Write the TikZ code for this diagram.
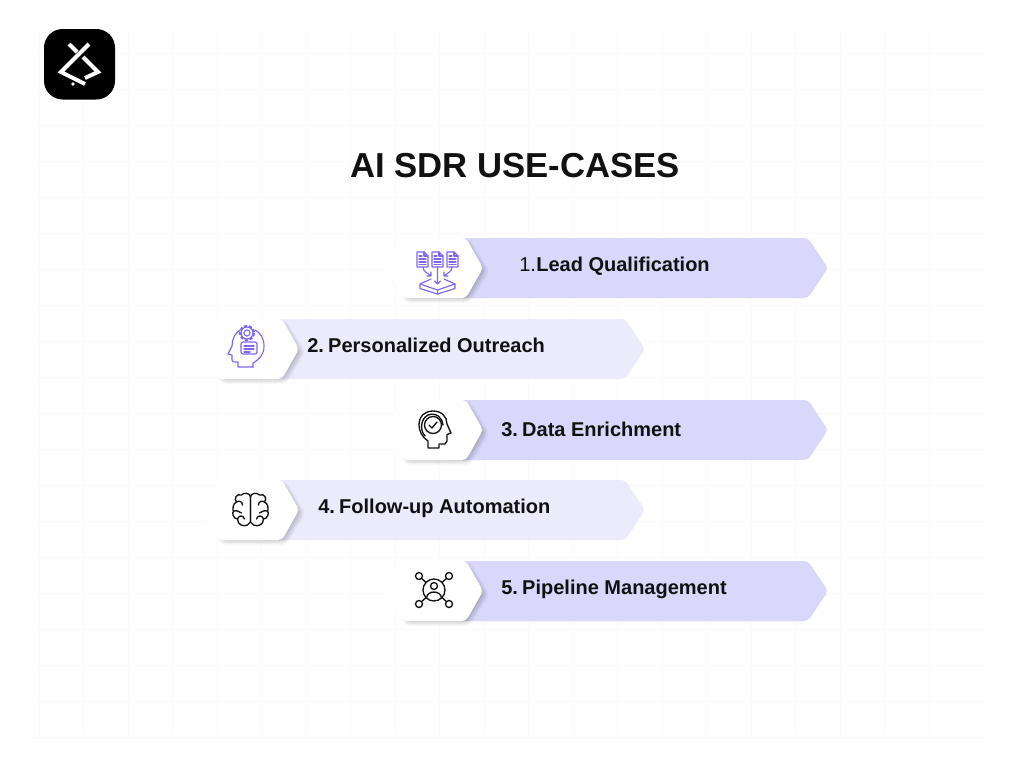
\documentclass[tikz,border=0pt]{standalone}
\usepackage{xcolor}
\usepackage{fontspec}
\setmainfont{Liberation Sans}
\usetikzlibrary{calc}
\definecolor{bardark}{HTML}{D9D8FA}
\definecolor{barlight}{HTML}{ECEBFB}
\definecolor{iconpurple}{HTML}{7B68EE}
\definecolor{inkblack}{HTML}{111111}
\definecolor{gridfaint}{HTML}{FAFAFC}
\tikzset{
  rowtext/.style={anchor=base west,inner sep=0pt,text=inkblack,font=\fontsize{15}{18}\selectfont\bfseries},
  icon/.style={line width=1pt,inkblack,line cap=round,line join=round},
  iconp/.style={line width=0.85pt,iconpurple,line cap=round,line join=round},
  logoline/.style={white,line width=3pt}
}
\newcommand{\barrow}[4]{% left, top, fill colour, bar end
  \fill[#3,rounded corners=3pt] (#1+60,#2) -- (#4-20,#2) -- (#4,#2+30) -- (#4-20,#2+60) -- (#1+60,#2+60) -- cycle;
  \foreach \i in {1,...,12}
    \filldraw[black,opacity=0.024,line join=round,line width=\i*1.15pt]
      (#1+12,#2+33) -- (#1+26,#2+10) -- (#1+80,#2+10) -- (#1+94,#2+33) -- (#1+80,#2+56) -- (#1+26,#2+56) -- cycle;
  \fill[white,rounded corners=3pt] (#1,#2+30) -- (#1+18,#2) -- (#1+81,#2) -- (#1+98,#2+30) -- (#1+81,#2+60) -- (#1+18,#2+60) -- cycle;
}
\begin{document}
\begin{tikzpicture}[x=0.75pt,y=-0.75pt]
    \useasboundingbox (0,0) rectangle (1024,768);
    \fill[white] (0,0) rectangle (1024,768);
    % faint grid
    \foreach \k in {0,...,20}
      \draw[gridfaint,line width=0.6pt] (39+\k*44.5,30) -- (39+\k*44.5,735);
    \foreach \k in {0,...,19}
      \draw[gridfaint,line width=0.6pt] (30,53+\k*36) -- (990,53+\k*36);
    % logo
    \fill[black,rounded corners=14pt] (44,29) rectangle (115,99.5);
    \draw[logoline] (89,44) -- (61,72) -- (85,84);
    \draw[logoline] (69,44) -- (77,52);
    \draw[logoline] (83,57) -- (98,72) -- (85,78);
    \fill[white] (73,84) circle (1.8);
    % title
    \node[inner sep=0pt,text=inkblack,font=\fontsize{26}{30}\selectfont\bfseries] (title) at (515,166) {AI SDR USE-CASES};
    % rows
    \barrow{385}{238}{bardark}{828}
    \barrow{201}{319}{barlight}{645}
    \barrow{385}{400}{bardark}{828}
    \barrow{201}{480}{barlight}{645}
    \barrow{385}{561}{bardark}{828}
    \node[rowtext] (lead) at (519,271.5) {{\mdseries 1.}\kern0.3pt Lead Qualification};
    \node[rowtext] (outreach) at (307,352.5) {2.\kern3.2pt Personalized Outreach};
    \node[rowtext] (enrich) at (501,436.5) {3.\kern3.2pt Data Enrichment};
    \node[rowtext] (followup) at (318,513.5) {4.\kern3.2pt Follow-up Automation};
    \node[rowtext] (pipeline) at (501,594.5) {5.\kern3.2pt Pipeline Management};
    % icon 1, documents into tray
    \foreach \x in {417,432,447} {
      \draw[iconp] (\x,252) -- (\x+7,252) -- (\x+11,256) -- (\x+11,267) -- (\x,267) -- cycle;
      \draw[iconp] (\x+7,252) -- (\x+7,256) -- (\x+11,256);
      \draw[iconp] (\x+2,256) -- (\x+5,256) (\x+2,259) -- (\x+9,259) (\x+2,262) -- (\x+9,262) (\x+2,264.5) -- (\x+9,264.5);
    }
    \draw[iconp] (437.5,267) -- (437.5,284) (434.5,281) -- (437.5,284) -- (440.5,281);
    \draw[iconp] (423,267) .. controls (423,272) and (428,273) .. (431,276) (427,276) -- (431,276) -- (431,272);
    \draw[iconp] (452,267) .. controls (452,272) and (447,273) .. (444,276) (448,276) -- (444,276) -- (444,272);
    \draw[iconp] (431,279) -- (420,284) -- (437.5,290) -- (455,284) -- (444,279);
    \draw[iconp] (420,284) -- (420,288.5) -- (437.5,294) -- (455,288.5) -- (455,284);
    \draw[iconp] (437.5,290) -- (437.5,294);
    % icon 2, head with gear and chat
    \draw[iconp] (253,367) -- (253,363) .. controls (260,359) and (264,354) .. (264,346) .. controls (264,338) and (260,332) .. (255,330);
    \draw[iconp] (240,330) .. controls (235,333) and (232,339) .. (232,346) -- (228,354) -- (232,355) -- (232,360) .. controls (232,362) and (233,362) .. (238,362) -- (238,367) -- (253,367);
    \draw[iconp,dash pattern=on 2.5pt off 1.2pt,line width=1.5pt,line cap=butt] (247,333) circle (7);
    \draw[iconp] (247,333) circle (6) (247,333) circle (3);
    \draw[iconp,rounded corners=1.5pt] (241,342) rectangle (257,354);
    \draw[iconp] (244,346) -- (254,346) (244,349) -- (254,349) (244,352) -- (250,352);
    % icon 3, head with check
    \draw[icon] (428,448) -- (428,441) .. controls (422,437) and (419,431) .. (419,425) .. controls (419,416) and (425,411) .. (433,411) .. controls (442,411) and (447,417) .. (447,424) -- (451,433) -- (447,434.5) -- (447,441) -- (445,444) -- (439,444) -- (439,448) -- cycle;
    \draw[icon] (433,425) circle (8.5);
    \draw[icon] (429,425) -- (432,428) -- (437,422);
    \draw[icon] (425,436) .. controls (420,431) and (420,419) .. (428,415) .. controls (436,412) and (443,418) .. (443,425);
    % icon 4, brain
    \foreach \s in {1,-1} {
      \begin{scope}[shift={(250.5,0)},xscale=\s]
        \draw[icon] (0,497) .. controls (0,493) and (-7,492) .. (-9,495) .. controls (-14,493) and (-17,499) .. (-14,502) .. controls (-18,503) and (-18,511) .. (-17,511) .. controls (-19,513) and (-17,519) .. (-13,519) .. controls (-13,525) and (-7,527) .. (-3,525) -- (0,522) -- cycle;
        \draw[icon] (-14,502) .. controls (-11,500) and (-8,502) .. (-8,505);
        \draw[icon] (-17,511) .. controls (-13,510) and (-11,512) .. (-9,513);
        \draw[icon] (-13,519) .. controls (-12,515) and (-7,515) .. (-6,519);
      \end{scope}
    }
    % icon 5, network around person
    \draw[icon] (434,590) circle (11);
    \draw[icon] (434,586) circle (3.5);
    \draw[icon] (426.5,598) .. controls (427,590) and (441,590) .. (441.5,598);
    \foreach \x/\y/\a/\b/\c/\d in {419/576/421.6/578.4/426/582.5,449/576/446.4/578.4/442/582.5,419/604/421.6/601.6/426/597.5,449/604/446.4/601.6/442/597.5} {
      \draw[icon] (\x,\y) circle (3.5);
      \draw[icon] (\a,\b) -- (\c,\d);
    }
\end{tikzpicture}
\end{document}
